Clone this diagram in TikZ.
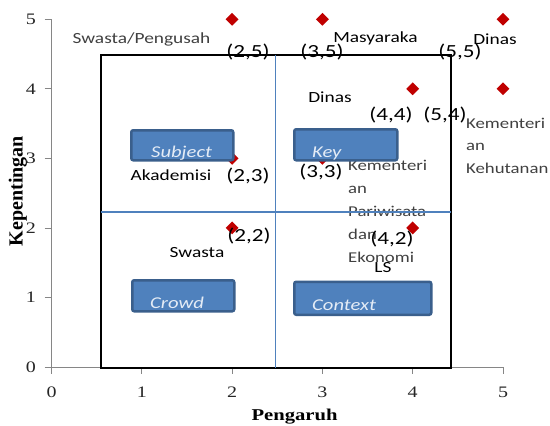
\documentclass[tikz,border=0pt]{standalone}
\usepackage{fontspec}
\usetikzlibrary{shapes.geometric}
\setmainfont{Carlito}
\newfontfamily\lab[FakeStretch=1.25]{Carlito}
\newfontfamily\ser[FakeStretch=1.25]{Liberation Serif}
\newfontfamily\serv{Liberation Serif}
\definecolor{dred}{HTML}{C00000}
\definecolor{bxf}{HTML}{4F81BD}
\definecolor{bxd}{HTML}{3A5F8C}
\definecolor{bxt}{HTML}{E4ECF6}
\definecolor{axc}{HTML}{868686}
\definecolor{grt}{HTML}{404040}
\begin{document}
\begin{tikzpicture}[x=1pt,y=-1pt,
  dia/.style={diamond, fill=dred, inner sep=0pt, minimum width=13pt, minimum height=13pt},
  nm/.style={font=\lab\fontsize{15.5}{18}\selectfont, anchor=base, inner sep=0pt, text=black},
  co/.style={font=\lab\fontsize{18.5}{22}\selectfont, anchor=base, inner sep=0pt, text=black},
  gr/.style={font=\lab\fontsize{15}{18}\selectfont, anchor=base west, inner sep=0pt, text=grt},
  tk/.style={font=\ser\fontsize{16}{18}\selectfont, inner sep=0pt, text=black!85},
  bx/.style={draw=bxd, line width=2.5pt, fill=bxf, rounded corners=2pt, inner sep=0pt, anchor=north west},
  bt/.style={font=\lab\itshape\fontsize{16.5}{18}\selectfont, text=bxt, anchor=base west, inner sep=0pt},
  ax/.style={draw=axc, line width=0.8pt}
]
\useasboundingbox (0,0) rectangle (550,426);
% axes
\coordinate (o) at (51.5,367);
\coordinate (ytop) at (51.5,19.3);
\coordinate (xend) at (503,367);
\draw[ax] (ytop) -- (o) -- (xend);
\foreach \i/\yy in {0/367,1/297.5,2/227.9,3/158.4,4/88.8,5/19.3}{
  \draw[ax] (44.5,\yy) -- (51.5,\yy);
  \node[tk, anchor=east] (yl\i) at (36,\yy) {\i};
}
\foreach \i/\xx in {0/51.5,1/141.8,2/232.1,3/322.4,4/412.7,5/503}{
  \draw[ax] (\xx,367) -- (\xx,374);
  \node[tk] (xl\i) at (\xx,392) {\i};
}
\node[font=\serv\bfseries\fontsize{20}{22}\selectfont, rotate=90, inner sep=0pt] (ytitle) at (18,191) {Kepentingan};
\node[font=\ser\bfseries\fontsize{16.5}{18}\selectfont, anchor=base, inner sep=0pt] (xtitle) at (294.5,420) {Pengaruh};
% points
\node[dia] (p25) at (232.1,19.3) {};
\node[dia] (p35) at (322.4,19.3) {};
\node[dia] (p55) at (503,19.3) {};
\node[dia] (p44) at (412.7,88.8) {};
\node[dia] (p54) at (503,88.8) {};
\node[dia] (p23) at (232.1,158.4) {};
\node[dia] (p33) at (322.4,158.4) {};
\node[dia] (p22) at (232.1,227.9) {};
\node[dia] (p42) at (412.7,227.9) {};
% labels
\node[nm, text=grt] (l1) at (141.5,43.5) {Swasta/Pengusah};
\node[nm] (l2) at (375.5,42) {Masyaraka};
\node[nm] (l3) at (495,44.5) {Dinas};
\node[nm] (l4) at (330,102) {Dinas};
\node[nm] (l5) at (171,180.7) {Akademisi};
\node[nm] (l6) at (197,257) {Swasta};
\node[nm] (l7) at (383,272.7) {LS};
\node[gr] (k1) at (466,128) {Kementeri};
\node[gr] (k2) at (466,150.5) {an};
\node[gr] (k3) at (466,173) {Kehutanan};
\node[gr] (m1) at (348,170) {Kementeri};
\node[gr] (m2) at (348,193) {an};
\node[gr] (m3) at (348,216) {Pariwisata};
\node[gr] (m4) at (348,239) {dan};
\node[gr] (m5) at (348,262) {Ekonomi};
\node[co] (c25) at (248,57) {(2,5)};
\node[co] (c35) at (322,57) {(3,5)};
\node[co] (c55) at (460,57) {(5,5)};
\node[co] (c44) at (391,120) {(4,4)};
\node[co] (c54) at (445,120) {(5,4)};
\node[co] (c33) at (321,177) {(3,3)};
\node[co] (c23) at (248,181) {(2,3)};
\node[co] (c22) at (249,241) {(2,2)};
\node[co] (c42) at (392,244) {(4,2)};
% quadrant frame
\draw[black, line width=2pt] (101,55) rectangle (450.7,367.5);
\draw[bxf, line width=1.5pt] (101,212) -- (450.7,212);
\draw[bxf, line width=1.5pt] (275.5,55) -- (275.5,367.5);
% boxes
\node[bx, minimum width=102pt, minimum height=30pt] (subj) at (130,129) {};
\node[bx, minimum width=103pt, minimum height=31pt] (key) at (293,128) {};
\node[bx, minimum width=102pt, minimum height=31pt] (crowd) at (131,279) {};
\node[bx, minimum width=137pt, minimum height=33pt] (ctx) at (293,280.5) {};
\begin{scope}
\clip ([shift={(1.2,-1.2)}]subj.south west) rectangle ([shift={(-1.2,1.2)}]subj.north east);
\node[bt] (subjt) at (151,157.5) {Subject};
\end{scope}
\begin{scope}
\clip ([shift={(1.2,-1.2)}]key.south west) rectangle ([shift={(-1.2,1.2)}]key.north east);
\node[bt] (keyt) at (312,157.5) {Key};
\end{scope}
\begin{scope}
\clip ([shift={(1.2,-1.2)}]crowd.south west) rectangle ([shift={(-1.2,1.2)}]crowd.north east);
\node[bt] (crowdt) at (150,308) {Crowd};
\end{scope}
\begin{scope}
\clip ([shift={(1.2,-1.2)}]ctx.south west) rectangle ([shift={(-1.2,1.2)}]ctx.north east);
\node[bt] (ctxt) at (312,310) {Context};
\end{scope}
\end{tikzpicture}
\end{document}
